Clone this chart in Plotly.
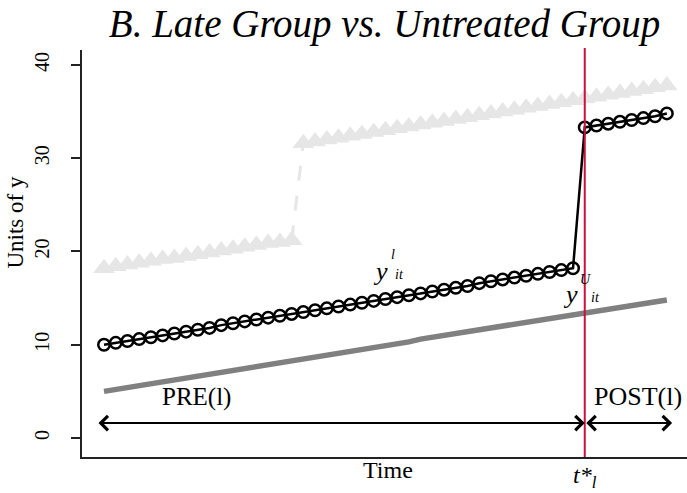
import plotly.graph_objects as go

# Time periods and treatment date for the late group
periods = list(range(1, 50))
t_star = 42
early_switch = 18  # first post-treatment period of the early group

# Untreated group (never treated)
untreated = [5.0, 5.2, 5.4, 5.6, 5.8, 6.0, 6.2, 6.4, 6.6, 6.8,
             7.1, 7.3, 7.5, 7.7, 7.9, 8.1, 8.3, 8.5, 8.7, 8.9,
             9.1, 9.3, 9.5, 9.7, 9.9, 10.1, 10.3,
             10.6, 10.8, 11.0, 11.2, 11.4, 11.6, 11.8, 12.0, 12.2, 12.4,
             12.6, 12.8, 13.0, 13.2, 13.4, 13.6, 13.8, 14.0, 14.2, 14.4,
             14.6, 14.8]

# Late group: pre and post treatment
late_pre = [10.0, 10.2, 10.4, 10.6, 10.8, 11.0, 11.2, 11.4, 11.6, 11.8,
            12.1, 12.3, 12.5, 12.7, 12.9, 13.1, 13.3, 13.5, 13.7, 13.9,
            14.1, 14.3, 14.5, 14.7, 14.9, 15.1, 15.3, 15.5, 15.7, 15.9,
            16.1, 16.3, 16.6, 16.8, 17.0, 17.2, 17.4, 17.6, 17.8, 18.0,
            18.2]
late_post = [33.3, 33.5, 33.7, 33.9, 34.1, 34.3, 34.5, 34.8]

# Early group (shown faded)
early_pre = [18.2, 18.4, 18.6, 18.8, 19.0, 19.2, 19.3, 19.5, 19.7, 19.9,
             20.1, 20.3, 20.5, 20.7, 20.9, 21.0, 21.2]
early_post = [31.6, 31.8, 32.0, 32.2, 32.4, 32.6, 32.8, 33.0, 33.2, 33.4,
              33.6, 33.8, 34.0, 34.2, 34.4, 34.6, 34.8, 35.0, 35.2, 35.4,
              35.6, 35.8, 36.0, 36.2, 36.4, 36.6, 36.8, 37.0, 37.2, 37.4,
              37.6, 37.8]

y_ticks = [0, 10, 20, 30, 40]
arrow_level = 1.6
pre_start = 0.4
post_end = 49.45

SERIF = "Liberation Serif"
FAINT = "#e6e6e6"
GRAY = "#808080"
RED = "#c8123c"

late = late_pre + late_post
early_pre_t = periods[:early_switch - 1]
early_post_t = periods[early_switch - 1:]

fig = go.Figure()

# Early group: faded triangles, dashed jump at its treatment date
fig.add_trace(go.Scatter(
    x=[early_pre_t[-1], early_post_t[0]], y=[early_pre[-1], early_post[0]],
    mode="lines", line=dict(color=FAINT, width=3, dash="longdash"),
    showlegend=False, hoverinfo="skip"))
for xs, ys in ((early_pre_t, early_pre), (early_post_t, early_post)):
    fig.add_trace(go.Scatter(
        x=xs, y=ys, mode="lines+markers",
        line=dict(color=FAINT, width=3),
        marker=dict(symbol="triangle-up", size=19, color=FAINT),
        showlegend=False, hoverinfo="skip"))

# Untreated group
fig.add_trace(go.Scatter(
    x=periods, y=untreated, mode="lines",
    line=dict(color=GRAY, width=5.5), showlegend=False))

# Late group
fig.add_trace(go.Scatter(
    x=periods, y=late, mode="lines+markers",
    line=dict(color="black", width=2.5),
    marker=dict(symbol="circle-open", size=11.5, color="black",
                line=dict(width=2.5, color="black")),
    showlegend=False))

# Treatment date of the late group
fig.add_shape(type="line", xref="x", yref="paper", x0=t_star, x1=t_star,
              y0=0, y1=1.005, line=dict(color=RED, width=2), layer="above")

arrow_common = dict(xref="x", yref="y", axref="x", ayref="y", text="",
                    showarrow=True, arrowside="end+start",
                    arrowhead=4, startarrowhead=4,
                    arrowsize=1.4, startarrowsize=1.4,
                    arrowwidth=2, arrowcolor="black",
                    standoff=0, startstandoff=0)
fig.add_annotation(x=t_star, y=arrow_level, ax=pre_start, ay=arrow_level,
                   **arrow_common)
fig.add_annotation(x=post_end, y=arrow_level, ax=t_star, ay=arrow_level,
                   **arrow_common)

txt = dict(family=SERIF, color="black")
fig.add_annotation(x=8.85, y=4.4, text="PRE(l)", showarrow=False,
                   font=dict(size=25, **txt))
fig.add_annotation(x=46.5, y=4.4, text="POST(l)", showarrow=False,
                   font=dict(size=26, **txt))

# Series labels y^l_it and y^U_it
def series_label(x, y, sup, sup_dx, sub_dx, sup_dy):
    fig.add_annotation(x=x, y=y, text="<i>y</i>", showarrow=False,
                       font=dict(size=26, **txt))
    fig.add_annotation(x=x, y=y, text=f"<i>{sup}</i>", showarrow=False,
                       xshift=sup_dx, yshift=sup_dy, font=dict(size=14, **txt))
    fig.add_annotation(x=x, y=y, text="<i>it</i>", showarrow=False,
                       xshift=sub_dx, yshift=-3, font=dict(size=14, **txt))

series_label(24.6, 17.9, "l", 12, 19, 17)
series_label(40.8, 15.4, "U", 15, 25, 15)

# Axis captions
fig.add_annotation(xref="paper", yref="paper", x=0.506, y=-0.032,
                   text="Time", showarrow=False, yanchor="middle",
                   font=dict(size=24, **txt))
fig.add_annotation(xref="x", yref="paper", x=t_star, y=-0.05,
                   text="<i>t*<sub>l</sub></i>", showarrow=False,
                   yanchor="middle", font=dict(size=24, **txt))
fig.add_annotation(xref="paper", yref="paper", x=-0.11, y=0.577,
                   text="Units of y", showarrow=False, textangle=-90,
                   xanchor="center", yanchor="middle",
                   font=dict(size=23, **txt))

fig.update_layout(
    width=687, height=493,
    margin=dict(l=82, r=0, t=50, b=36),
    paper_bgcolor="white", plot_bgcolor="white",
    title=dict(text="<i>B. Late Group vs. Untreated Group</i>",
               x=0.5, xref="paper", xanchor="center",
               y=1 - 23 / 493, yref="container", yanchor="middle",
               font=dict(family=SERIF, size=39, color="black")),
    xaxis=dict(range=[-0.876, 50.72], showgrid=False, zeroline=False,
               showline=True, linecolor="#222", linewidth=1.5,
               showticklabels=False, ticks=""),
    yaxis=dict(range=[-2.04, 41.6], showgrid=False, zeroline=False,
               showline=True, linecolor="#222", linewidth=1.5,
               tickvals=y_ticks, ticks="outside", ticklen=9,
               tickcolor="#222", tickwidth=1.5, tickangle=-90,
               ticklabelstandoff=14,
               tickfont=dict(family=SERIF, size=20, color="black")),
)

fig.write_html("out.html")
